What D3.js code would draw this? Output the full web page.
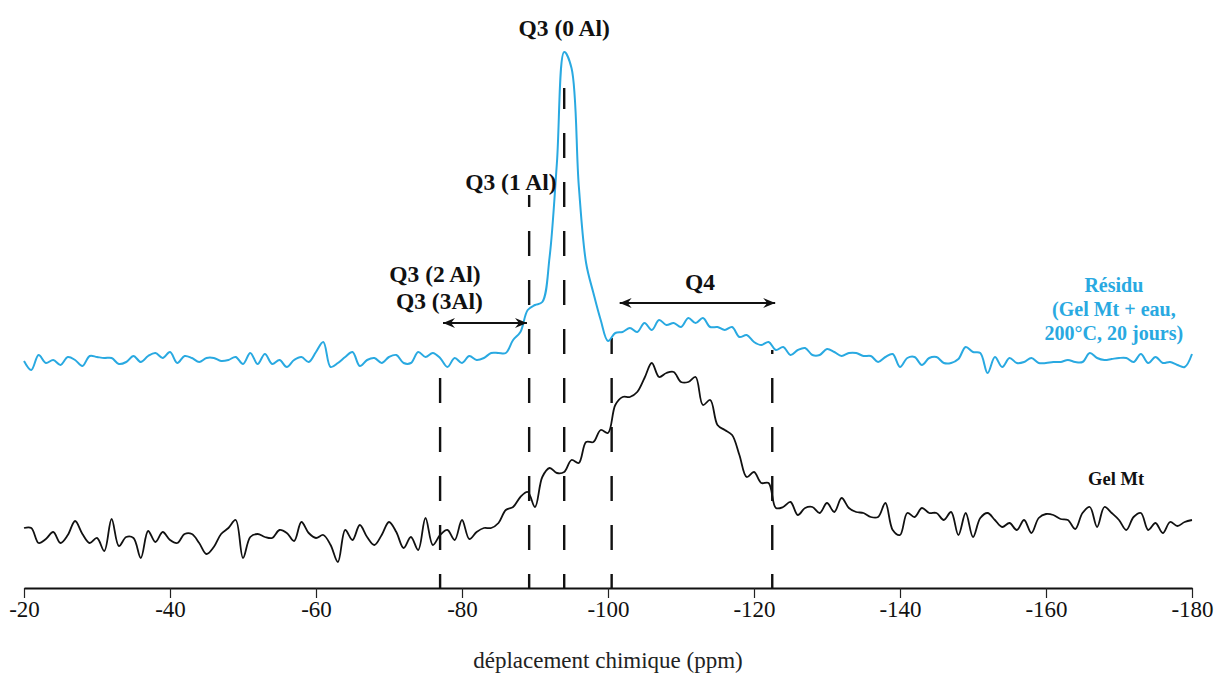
<!DOCTYPE html>
<html><head><meta charset="utf-8">
<script src="https://cdn.jsdelivr.net/npm/d3@7"></script>
<style>
html,body{margin:0;padding:0;background:#fff;}
svg{display:block;}
text{font-family:"Liberation Serif","DejaVu Serif",serif;}
</style></head>
<body>
<svg id="chart" width="1221" height="673"></svg>
<script>
// chemical shift grid (ppm), 1 ppm step from -20 to -180
const shiftPpm = d3.range(-20, -181, -1);

// Résidu (Gel Mt + eau, 200°C, 20 jours) – intensity (arb. units)
const residu = [
227,218,233,225,228,223,231,228,222,232,
231,230,230,224,226,232,226,232,235,230,
236,225,232,230,226,230,230,227,228,231,
224,235,224,234,224,228,221,228,231,226,
236,246,221,225,231,236,222,228,230,225,
231,233,225,225,236,231,235,230,221,230,
225,232,228,230,235,235,235,248,256,278,
283,286,331,425,536,520,402,325,295,268,
247,255,256,260,256,265,258,268,263,265,
261,270,265,270,261,261,258,261,251,253,
246,243,246,238,241,233,238,240,233,233,
239,236,232,235,235,232,232,226,231,234,
221,230,231,223,230,231,225,225,229,241,
236,235,215,231,221,230,225,226,230,225,
225,226,226,228,226,226,235,230,228,229,
230,230,226,234,225,231,225,226,223,221,
234];

// Gel Mt – intensity (arb. units)
const gelMt = [
60,60,45,49,56,45,53,67,54,45,
50,37,69,42,51,50,30,57,46,56,
48,45,54,54,45,34,41,54,60,68,
30,51,54,51,50,58,55,47,66,55,
50,53,43,26,58,48,63,51,43,53,
66,56,40,51,38,70,43,53,58,48,
68,49,56,60,60,65,78,81,91,96,
81,111,120,115,116,128,125,146,146,158,
155,183,191,191,196,210,225,211,215,216,
206,206,211,183,188,163,158,153,133,111,
116,105,105,80,81,86,73,80,81,75,
85,76,90,80,76,75,71,71,85,58,
53,75,71,80,75,75,68,76,53,75,
51,70,75,68,61,65,58,68,55,70,
74,73,69,68,59,75,81,61,81,75,
68,58,71,75,58,65,55,66,62,66,
68];

// axis ticks
const tickValues = [-20,-40,-60,-80,-100,-120,-140,-160,-180];
// Q-site marker positions (ppm)
const markerPpm = [-77, -89.2, -94, -100.5, -122.5];
const markerTopIntensity = [223, 393, 500, 250, 238];

const svg = d3.select("#chart");
const x = d3.scaleLinear().domain([-20, -180]).range([24, 1192]);
const y = d3.scaleLinear().domain([0, 540]).range([588, 48]);

const blue = "#29a9e1";

// dashed marker lines
svg.append("g").selectAll("line").data(markerPpm).join("line")
  .attr("x1", d => x(d)).attr("x2", d => x(d))
  .attr("y1", y(0)).attr("y2", (d,i) => y(markerTopIntensity[i]))
  .attr("stroke", "#111").attr("stroke-width", 2.4)
  .attr("stroke-dasharray", "25,24").attr("stroke-dashoffset", 11);

// spectra
const line = d3.line().x((d,i) => x(shiftPpm[i])).y(d => y(d)).curve(d3.curveCatmullRom.alpha(0.5));
svg.append("path").datum(gelMt).attr("d", line)
  .attr("fill","none").attr("stroke","#111").attr("stroke-width",1.8).attr("stroke-linejoin","round");
svg.append("path").datum(residu).attr("d", line)
  .attr("fill","none").attr("stroke",blue).attr("stroke-width",2).attr("stroke-linejoin","round");

// x axis
const axis = d3.axisBottom(x).tickValues(tickValues).tickSize(10).tickSizeOuter(0).tickFormat(d => "-" + Math.abs(d));
const gx = svg.append("g").attr("transform", `translate(0,${y(0)})`).call(axis);
gx.select(".domain").attr("stroke","#111").attr("stroke-width",2);
gx.selectAll(".tick line").attr("stroke","#222").attr("stroke-width",1.2);
gx.selectAll(".tick text").attr("fill","#111").attr("font-size",23)
  .attr("font-family","Liberation Serif, serif").attr("dy",0).attr("y",29);

svg.append("text").attr("x", x(-100)).attr("y", 668).attr("text-anchor","middle")
  .attr("font-size",23).attr("fill","#222").text("déplacement chimique (ppm)");

// arrows
const defs = svg.append("defs");
["start","end"].forEach(k => {
  defs.append("marker").attr("id","arr-"+k).attr("viewBox","-12 -6 14 12")
    .attr("refX",0).attr("refY",0).attr("markerWidth",14).attr("markerHeight",12)
    .attr("markerUnits","userSpaceOnUse").attr("orient", k === "end" ? "auto" : "auto-start-reverse")
    .append("path").attr("d","M0,0 L-12,-5 L-8,0 L-12,5 Z").attr("fill","#111");
});
const arrows = [
  {from: -77.4, to: -88.9, yv: 265},
  {from: -101.6, to: -122.9, yv: 285}
];
svg.append("g").selectAll("line").data(arrows).join("line")
  .attr("x1", d => x(d.from)).attr("x2", d => x(d.to))
  .attr("y1", d => y(d.yv)).attr("y2", d => y(d.yv))
  .attr("stroke","#111").attr("stroke-width",2)
  .attr("marker-start","url(#arr-start)").attr("marker-end","url(#arr-end)");

// labels
const labels = [
  {t:"Q3 (0 Al)", p:-94, yp:36},
  {t:"Q3 (1 Al)", p:-86.7, yp:190},
  {t:"Q3 (2 Al)", p:-76.3, yp:282},
  {t:"Q3 (3Al)", p:-76.9, yp:309},
  {t:"Q4", p:-112.6, yp:290}
];
svg.append("g").selectAll("text").data(labels).join("text")
  .attr("x", d => x(d.p)).attr("y", d => d.yp).attr("text-anchor","middle")
  .attr("font-size",23.5).attr("font-weight","bold").attr("fill","#111").text(d => d.t);

const resLines = ["Résidu", "(Gel Mt + eau,", "200°C, 20 jours)"];
svg.append("g").selectAll("text").data(resLines).join("text")
  .attr("x", x(-169.3)).attr("y", (d,i) => 292 + i*24).attr("text-anchor","middle")
  .attr("font-size",20).attr("font-weight","bold").attr("fill",blue).text(d => d);

svg.append("text").attr("x", x(-169.6)).attr("y", 485).attr("text-anchor","middle")
  .attr("font-size",18.5).attr("font-weight","bold").attr("fill","#111").text("Gel Mt");
</script>
</body></html>
